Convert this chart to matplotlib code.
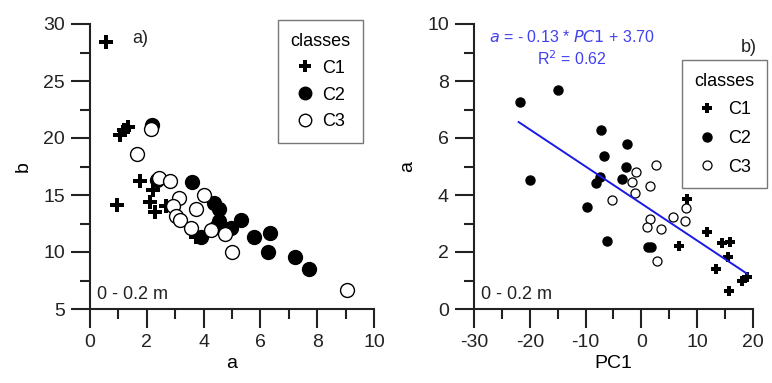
import matplotlib
matplotlib.use("Agg")
import matplotlib.pyplot as plt
import numpy as np

plt.rcParams['font.family'] = ['Liberation Sans', 'DejaVu Sans']
plt.rcParams['axes.unicode_minus'] = False

# ---- panel a) data: a vs b
c1_a = [0.58, 1.05, 1.2, 1.35, 1.75, 0.96, 2.22, 2.1, 2.28, 2.69, 3.74]
c1_b = [28.4, 20.3, 20.7, 21.0, 16.2, 14.1, 15.4, 14.4, 13.5, 14.0, 11.3]
c2_a = [2.19, 2.36, 3.59, 4.36, 4.54, 4.54, 4.44, 4.97, 5.32, 3.92, 5.77, 6.35, 6.26, 7.23, 7.70]
c2_b = [21.1, 16.3, 16.1, 14.3, 13.8, 12.7, 12.2, 12.1, 12.8, 11.3, 11.3, 11.7, 10.0, 9.6, 8.5]
c3_a = [2.16, 1.64, 2.42, 2.81, 3.12, 4.01, 3.74, 2.92, 3.04, 3.16, 3.54, 4.27, 4.77, 5.0, 9.06]
c3_b = [20.8, 18.6, 16.5, 16.2, 14.7, 15.0, 13.8, 14.0, 13.2, 12.8, 12.1, 11.9, 11.6, 10.0, 6.7]

# ---- panel b) data: PC1 vs a
p1_x = [8.1, 11.8, 6.74, 14.5, 15.9, 15.5, 13.3, 15.7, 18.1, 19.0]
p1_y = [3.85, 2.71, 2.21, 2.33, 2.36, 1.84, 1.39, 0.63, 0.98, 1.13]
p2_x = [-21.8, -14.9, -20.0, -7.24, -6.7, -2.64, -2.7, -7.5, -8.1, -3.5, -9.7, -6.1, 1.18, 1.66]
p2_y = [7.25, 7.68, 4.53, 6.28, 5.37, 5.79, 5.0, 4.64, 4.41, 4.56, 3.57, 2.40, 2.16, 2.16]
p3_x = [-1.0, 2.56, -1.6, 1.48, -1.2, -5.33, 5.72, 8.05, 7.8, 1.54, 1.06, 3.57, 2.73]
p3_y = [4.80, 5.05, 4.47, 4.33, 4.06, 3.82, 3.24, 3.53, 3.10, 3.15, 2.89, 2.80, 1.68]
slope, intercept, r2 = -0.13, 3.70, 0.62
fit_range = [-22.0, 19.0]

classes = ['C1', 'C2', 'C3']

fig = plt.figure(figsize=(7.72, 3.83), dpi=100)
ax1 = fig.add_axes([90/772, 1-309/383, 284/772, 285/383])
ax2 = fig.add_axes([474/772, 1-309/383, 279/772, 285/383])

def style(ax):
    for s in ['top', 'right']:
        ax.spines[s].set_visible(False)
    for s in ['left', 'bottom']:
        ax.spines[s].set_linewidth(1.5)
        ax.spines[s].set_color('#222222')
    ax.tick_params(which='major', direction='out', length=14, width=1.5, labelsize=14, pad=4,
                   color='#222222', labelcolor='#222222')
    ax.tick_params(which='minor', direction='out', length=7, width=1.5, color='#222222')

# panel a
ax1.plot(c1_a, c1_b, 'P', color='black', ms=10, mew=0, ls='none', label=classes[0], clip_on=False)
ax1.plot(c2_a, c2_b, 'o', mfc='black', mec='black', ms=10, ls='none', label=classes[1], clip_on=False)
ax1.plot(c3_a, c3_b, 'o', mfc='white', mec='black', mew=1.0, ms=10, ls='none', label=classes[2], clip_on=False)
ax1.set_xlim(0, 10)
ax1.set_ylim(5, 30)
ax1.set_xticks(np.arange(0, 11, 2))
ax1.set_xticks(np.arange(1, 10, 2), minor=True)
ax1.set_yticks(np.arange(5, 31, 5))
ax1.set_yticks(np.arange(7.5, 30, 5), minor=True)
style(ax1)
ax1.set_xlabel('a', fontsize=14, labelpad=3)
ax1.set_ylabel('b', fontsize=14, labelpad=8)
ax1.text(0.15, 0.935, 'a)', transform=ax1.transAxes, fontsize=13, color='#222222')
ax1.text(0.025, 0.035, '0 - 0.2 m', transform=ax1.transAxes, fontsize=13, color='#222222')
leg1 = ax1.legend(title='classes', loc='upper left', bbox_to_anchor=(0.662, 1.014),
                  borderaxespad=0, fontsize=13, title_fontsize=13, frameon=True, fancybox=False,
                  edgecolor='#555555', handletextpad=0.5, handlelength=0.9,
                  borderpad=0.7, labelspacing=0.55, markerscale=0.9)
leg1.get_frame().set_linewidth(1.0)

# panel b
ax2.plot(p1_x, p1_y, 'P', color='black', ms=6.5, mew=0, ls='none', label=classes[0], clip_on=False)
ax2.plot(p2_x, p2_y, 'o', mfc='black', mec='black', ms=6.5, ls='none', label=classes[1], clip_on=False)
ax2.plot(p3_x, p3_y, 'o', mfc='white', mec='black', mew=0.9, ms=6.5, ls='none', label=classes[2], clip_on=False)
fx = np.array(fit_range)
ax2.plot(fx, slope*fx + intercept, color='#1a1ae6', lw=1.4)
ax2.set_xlim(-30, 20)
ax2.set_ylim(0, 10)
ax2.set_xticks(np.arange(-30, 21, 10))
ax2.set_xticks(np.arange(-25, 20, 5), minor=True)
ax2.set_yticks(np.arange(0, 11, 2))
ax2.set_yticks(np.arange(1, 10, 2), minor=True)
style(ax2)
ax2.set_xlabel('PC1', fontsize=14, labelpad=3)
ax2.set_ylabel('a', fontsize=14, labelpad=8)
ax2.text(0.985, 0.9, 'b)', transform=ax2.transAxes, fontsize=13, ha='center', color='#222222')
ax2.text(0.025, 0.035, '0 - 0.2 m', transform=ax2.transAxes, fontsize=13, color='#222222')
blue = '#4040f0'
ax2.text(0.35, 0.955, r'$\it{a}$ = - %.2f * $\it{PC1}$ + %.2f' % (abs(slope), intercept),
         transform=ax2.transAxes, fontsize=11.5, color=blue, ha='center', va='center')
ax2.text(0.35, 0.88, 'R$^2$ = %.2f' % r2, transform=ax2.transAxes, fontsize=11.5,
         color=blue, ha='center', va='center')
leg2 = ax2.legend(title='classes', loc='upper left', bbox_to_anchor=(0.745, 0.874),
                  borderaxespad=0, fontsize=13, title_fontsize=13, frameon=True, fancybox=False,
                  edgecolor='#555555', handletextpad=0.7, handlelength=1.0,
                  borderpad=0.7, labelspacing=0.65)
leg2.get_frame().set_linewidth(1.0)

fig.savefig('out.png', dpi=100)
